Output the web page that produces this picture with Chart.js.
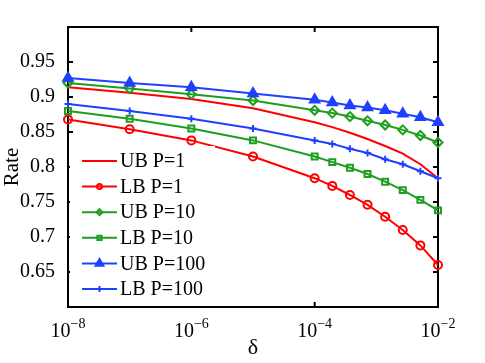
<!DOCTYPE html>
<html><head><meta charset="utf-8">
<script src="https://cdn.jsdelivr.net/npm/chart.js@4/dist/chart.umd.min.js"></script>
<style>html,body{margin:0;padding:0;background:#fff}canvas{display:block}</style>
</head><body>
<canvas id="c" width="485" height="363"></canvas>
<script>
// ---- data ----
const deltas = [1e-8, 1e-7, 1e-6, 1e-5, 1e-4, 1.931e-4, 3.728e-4, 7.197e-4, 1.389e-3, 2.683e-3, 5.179e-3, 1e-2];
const ubP1   = [0.914, 0.906, 0.897, 0.884, 0.864, 0.857, 0.849, 0.840, 0.830, 0.819, 0.804, 0.784];
const lbP1   = [0.868, 0.854, 0.838, 0.815, 0.784, 0.773, 0.760, 0.746, 0.729, 0.710, 0.688, 0.660];
const ubP10  = [0.920, 0.912, 0.904, 0.895, 0.881, 0.877, 0.872, 0.866, 0.860, 0.853, 0.845, 0.835];
const lbP10  = [0.880, 0.869, 0.855, 0.838, 0.815, 0.807, 0.799, 0.790, 0.779, 0.767, 0.753, 0.738];
const ubP100 = [0.927, 0.920, 0.914, 0.905, 0.896, 0.892, 0.888, 0.885, 0.881, 0.876, 0.871, 0.864];
const lbP100 = [0.890, 0.880, 0.869, 0.855, 0.838, 0.833, 0.826, 0.820, 0.811, 0.804, 0.794, 0.784];
const seriesNames = ['UB P=1', 'LB P=1', 'UB P=10', 'LB P=10', 'UB P=100', 'LB P=100'];
const xTicks = [1e-8, 1e-6, 1e-4, 1e-2];
const xTickExponents = ['\u22128', '\u22126', '\u22124', '\u22122'];
const yTicks = [0.65, 0.7, 0.75, 0.8, 0.85, 0.9, 0.95];

// ---- styles ----
const RED = '#ff0000', GREEN = '#1e9e1e', BLUE = '#2040ff';
const FONT = '"Liberation Serif", "Times New Roman", serif';
const styles = [
  {color: RED,   point: false,      r: 0,   lr: 0,   fill: false},
  {color: RED,   point: 'circle',   r: 4,   lr: 2.5, fill: false},
  {color: GREEN, point: 'rectRot',  r: 4.5, lr: 3,   fill: false},
  {color: GREEN, point: 'rect',     r: 4.2, lr: 3,   fill: false},
  {color: BLUE,  point: 'triangle', r: 5.5, lr: 4.5, fill: true},
  {color: BLUE,  point: 'cross',    r: 3.5, lr: 3,   fill: false}
];
const allSeries = [ubP1, lbP1, ubP10, lbP10, ubP100, lbP100];

const datasets = allSeries.map((vals, i) => ({
  label: seriesNames[i],
  data: deltas.map((d, j) => ({x: d, y: vals[j]})),
  borderColor: styles[i].color,
  backgroundColor: 'rgba(0,0,0,0)',
  borderWidth: 2,
  pointStyle: styles[i].point || 'circle',
  pointRadius: styles[i].point ? styles[i].r : 0,
  pointBorderWidth: 2,
  pointBorderColor: styles[i].color,
  pointBackgroundColor: styles[i].fill ? styles[i].color : 'rgba(0,0,0,0)',
  tension: 0,
  clip: false,
  order: 6 - i
}));

function drawMarker(ctx, style, x, y, r, fill) {
  ctx.beginPath();
  switch (style) {
    case 'circle': ctx.arc(x, y, r, 0, Math.PI * 2); break;
    case 'rect': { const s = Math.SQRT1_2 * r; ctx.rect(x - s, y - s, 2 * s, 2 * s); break; }
    case 'rectRot': ctx.moveTo(x, y - r); ctx.lineTo(x + r, y); ctx.lineTo(x, y + r); ctx.lineTo(x - r, y); ctx.closePath(); break;
    case 'triangle': ctx.moveTo(x, y - r); ctx.lineTo(x + r * 0.866, y + r * 0.5); ctx.lineTo(x - r * 0.866, y + r * 0.5); ctx.closePath(); break;
    case 'cross': ctx.moveTo(x - r, y); ctx.lineTo(x + r, y); ctx.moveTo(x, y - r); ctx.lineTo(x, y + r); break;
  }
  if (fill) { ctx.fillStyle = ctx.strokeStyle; ctx.fill(); }
  ctx.stroke();
}

const framePlugin = {
  id: 'frame',
  beforeDatasetsDraw(chart) {
    const {ctx, chartArea: a, scales: {x, y}} = chart;
    ctx.save();
    ctx.strokeStyle = '#000';
    ctx.lineWidth = 2;
    ctx.strokeRect(a.left, a.top, a.right - a.left, a.bottom - a.top);
    const L = 5;
    ctx.beginPath();
    x.ticks.forEach(t => {
      const px = x.getPixelForValue(t.value);
      ctx.moveTo(px, a.bottom); ctx.lineTo(px, a.bottom - L);
      ctx.moveTo(px, a.top); ctx.lineTo(px, a.top + L);
    });
    y.ticks.forEach(t => {
      const py = y.getPixelForValue(t.value);
      ctx.moveTo(a.left, py); ctx.lineTo(a.left + L, py);
      ctx.moveTo(a.right, py); ctx.lineTo(a.right - L, py);
    });
    ctx.stroke();
    ctx.restore();
  },
  afterDatasetsDraw(chart) {
    const {ctx, chartArea: a, scales: {x}} = chart;
    ctx.save();
    // legend box (white background, no outline)
    ctx.fillStyle = '#fff';
    ctx.fillRect(a.left + 2, 146, 145, a.bottom - 147);
    const rowY0 = 161, rowStep = 25.6;
    seriesNames.forEach((name, i) => {
      const yy = rowY0 + i * rowStep;
      const st = styles[i];
      ctx.strokeStyle = st.color;
      ctx.lineWidth = 2;
      ctx.beginPath(); ctx.moveTo(82, yy); ctx.lineTo(117, yy); ctx.stroke();
      if (st.point) drawMarker(ctx, st.point, 99.5, yy, st.lr, st.fill);
      ctx.fillStyle = '#000';
      ctx.font = '20px ' + FONT;
      ctx.textAlign = 'left';
      ctx.textBaseline = 'middle';
      ctx.fillText(name, 120, yy + 1);
    });
    // x tick labels with superscripts
    ctx.fillStyle = '#000';
    ctx.textBaseline = 'alphabetic';
    ctx.textAlign = 'left';
    xTicks.forEach((v, i) => {
      const px = x.getPixelForValue(v);
      ctx.font = '20px ' + FONT;
      const w1 = ctx.measureText('10').width;
      ctx.font = '14px ' + FONT;
      const w2 = ctx.measureText(xTickExponents[i]).width;
      const start = px - (w1 + w2) / 2;
      ctx.font = '20px ' + FONT;
      ctx.fillText('10', start, 337);
      ctx.font = '14px ' + FONT;
      ctx.fillText(xTickExponents[i], start + w1, 328);
    });
    // x axis title
    ctx.font = '22px ' + FONT;
    ctx.textAlign = 'center';
    ctx.fillText('\u03b4', (a.left + a.right) / 2, 354);
    ctx.restore();
  }
};

new Chart(document.getElementById('c'), {
  type: 'line',
  data: {datasets},
  options: {
    responsive: false,
    animation: false,
    devicePixelRatio: 1,
    layout: {padding: {top: 27, right: 47, left: 0, bottom: 0}},
    plugins: {legend: {display: false}, tooltip: {enabled: false}},
    scales: {
      x: {
        type: 'logarithmic', min: 1e-8, max: 1e-2,
        afterBuildTicks: s => { s.ticks = xTicks.map(v => ({value: v})); },
        ticks: {display: false},
        grid: {display: false},
        border: {display: false},
        afterFit: s => { s.height = 56; }
      },
      y: {
        type: 'linear', min: 0.6, max: 1.0,
        afterBuildTicks: s => { s.ticks = yTicks.map(v => ({value: v})); },
        ticks: {
          color: '#000', padding: 5, autoSkip: false,
          font: {family: FONT, size: 20},
          callback: v => String(v)
        },
        grid: {display: false},
        border: {display: false},
        title: {display: true, text: 'Rate', color: '#000', font: {family: FONT, size: 21}, padding: {top: 0, bottom: 0}},
        afterFit: s => { s.width = 68; }
      }
    }
  },
  plugins: [framePlugin]
});
</script>
</body></html>
